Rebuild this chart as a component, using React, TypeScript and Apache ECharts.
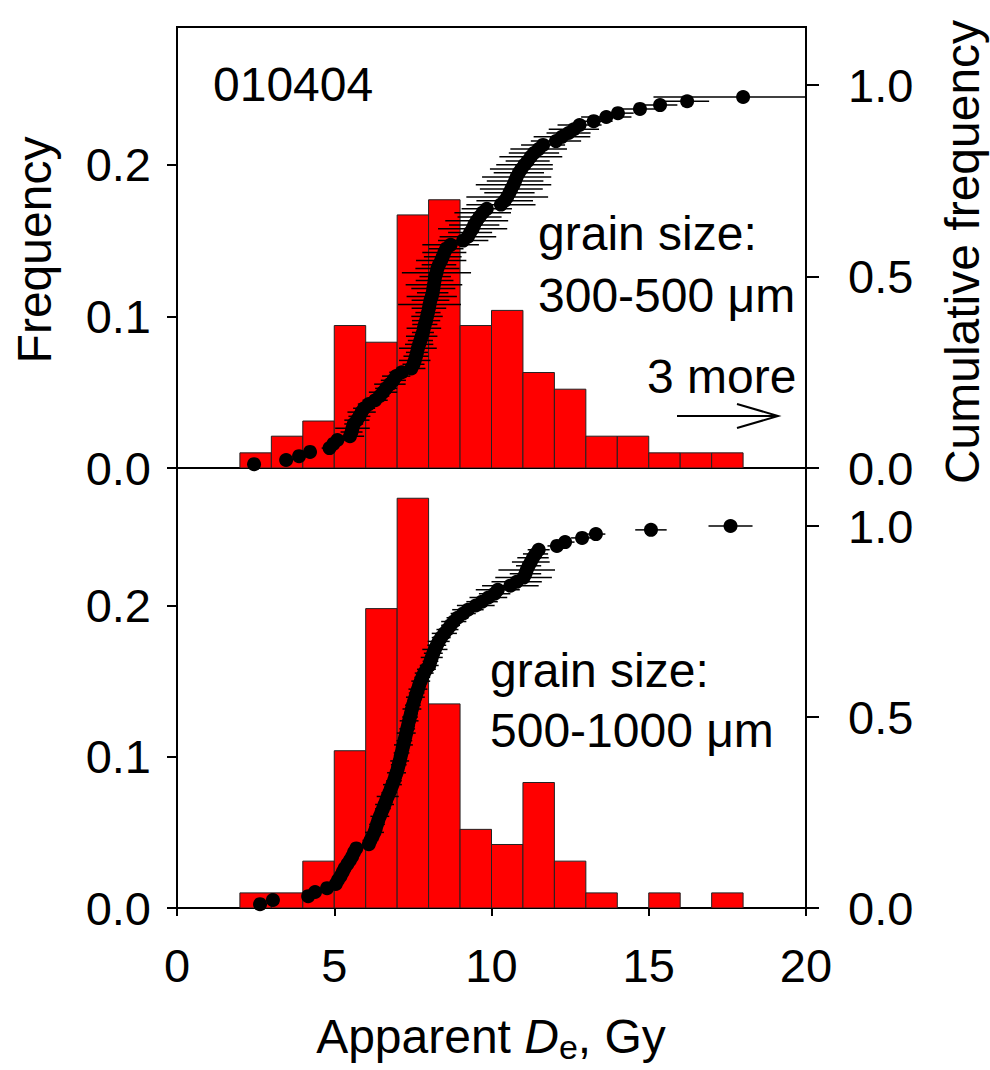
import React, { useEffect, useRef } from "react";
import * as echarts from "echarts";

const FONT = "'Liberation Sans', Arial, Helvetica, sans-serif";

// Histogram bins (Gy), bin width 1
const binStarts = [2, 3, 4, 5, 6, 7, 8, 9, 10, 11, 12, 13, 14, 15, 16, 17];
const binWidth = 1;
const freqTop = [0.010, 0.021, 0.031, 0.094, 0.083, 0.167, 0.177, 0.094, 0.104, 0.063, 0.052, 0.021, 0.021, 0.010, 0.010, 0.010];
const freqBottom = [0.010, 0.010, 0.031, 0.104, 0.198, 0.271, 0.135, 0.052, 0.042, 0.083, 0.031, 0.010, 0, 0.010, 0, 0.010];

// Cumulative distribution, 300-500 um (93 shown of 96)
const deTop = [
  2.45, 3.47, 3.88, 4.23, 4.85, 4.97, 5.1, 5.5, 5.55, 5.58,
  5.62, 5.72, 5.8, 5.87, 5.95, 6.1, 6.3, 6.45, 6.55, 6.65,
  6.77, 6.88, 6.97, 7.15, 7.45, 7.52, 7.56, 7.6, 7.63, 7.66,
  7.7, 7.74, 7.78, 7.82, 7.85, 7.88, 7.92, 7.95, 7.98, 8.01,
  8.03, 8.06, 8.1, 8.13, 8.15, 8.17, 8.19, 8.21, 8.25, 8.28,
  8.33, 8.4, 8.45, 8.5, 8.56, 8.7, 9.1, 9.25, 9.32, 9.4,
  9.45, 9.53, 9.62, 9.72, 9.85, 10.3, 10.42, 10.5, 10.57, 10.63,
  10.7, 10.75, 10.8, 10.87, 10.95, 11.05, 11.15, 11.25, 11.35, 11.5,
  11.64, 12.05, 12.24, 12.45, 12.62, 12.8, 13.25, 13.65, 14.02, 14.72,
  15.36, 16.22, 18.0,
];
const errTop = [
  0.1, 0.15, 0.15, 0.2, 0.25, 0.25, 0.3, 0.45, 0.35, 0.55,
  0.3, 0.4, 0.35, 0.45, 0.35, 0.35, 0.4, 0.3, 0.45, 0.35,
  0.5, 0.4, 0.45, 0.4, 0.45, 0.35, 0.5, 0.4, 0.35, 0.6,
  0.45, 0.4, 0.5, 0.35, 0.55, 0.4, 0.45, 0.5, 0.4, 0.55,
  1.0, 0.6, 0.8, 0.5, 0.7, 0.9, 0.6, 0.5, 1.1, 0.7,
  0.55, 0.8, 0.6, 0.7, 0.55, 0.9, 0.8, 0.9, 0.7, 1.1,
  0.8, 1.0, 0.7, 0.9, 0.8, 1.1, 0.9, 1.3, 0.8, 1.0,
  1.2, 0.9, 1.1, 0.8, 1.0, 0.9, 0.7, 1.0, 0.8, 0.9,
  0.7, 0.8, 0.9, 0.7, 0.8, 0.7, 0.6, 0.8, 0.5, 0.6,
  0.55, 0.7, 2.85,
];
const cumTop = [
  0.010, 0.021, 0.031, 0.042, 0.052, 0.063, 0.073, 0.083, 0.094, 0.104,
  0.115, 0.125, 0.135, 0.146, 0.156, 0.167, 0.177, 0.188, 0.198, 0.208,
  0.219, 0.229, 0.240, 0.250, 0.260, 0.271, 0.281, 0.292, 0.302, 0.313,
  0.323, 0.333, 0.344, 0.354, 0.365, 0.375, 0.385, 0.396, 0.406, 0.417,
  0.427, 0.438, 0.448, 0.458, 0.469, 0.479, 0.490, 0.500, 0.510, 0.521,
  0.531, 0.542, 0.552, 0.563, 0.573, 0.583, 0.594, 0.604, 0.615, 0.625,
  0.635, 0.646, 0.656, 0.667, 0.677, 0.688, 0.698, 0.708, 0.719, 0.729,
  0.740, 0.750, 0.760, 0.771, 0.781, 0.792, 0.802, 0.813, 0.823, 0.833,
  0.844, 0.854, 0.865, 0.875, 0.885, 0.896, 0.906, 0.917, 0.927, 0.938,
  0.948, 0.958, 0.969,
];

// Cumulative distribution, 500-1000 um (96)
const deBottom = [
  2.64, 3.05, 4.17, 4.39, 4.77, 5.05, 5.12, 5.2, 5.27, 5.33,
  5.42, 5.5, 5.57, 5.63, 5.7, 6.1, 6.15, 6.22, 6.28, 6.32,
  6.36, 6.4, 6.45, 6.5, 6.55, 6.6, 6.65, 6.7, 6.75, 6.8,
  6.85, 6.9, 6.94, 6.98, 7.02, 7.05, 7.08, 7.11, 7.14, 7.17,
  7.2, 7.23, 7.26, 7.29, 7.32, 7.35, 7.38, 7.41, 7.44, 7.47,
  7.5, 7.54, 7.58, 7.62, 7.66, 7.7, 7.75, 7.8, 7.86, 7.93,
  8.02, 8.06, 8.1, 8.15, 8.2, 8.26, 8.32, 8.4, 8.5, 8.6,
  8.7, 8.8, 8.92, 9.1, 9.25, 9.5, 9.7, 9.9, 10.1, 10.2,
  10.6, 10.8, 11.02, 11.08, 11.12, 11.18, 11.25, 11.32, 11.4, 11.5,
  12.08, 12.34, 12.88, 13.32, 15.07, 17.6,
];
const errBottom = [
  0.1, 0.1, 0.1, 0.12, 0.12, 0.15, 0.12, 0.2, 0.15, 0.18,
  0.2, 0.15, 0.2, 0.18, 0.2, 0.2, 0.25, 0.15, 0.3, 0.2,
  0.25, 0.2, 0.3, 0.2, 0.25, 0.3, 0.2, 0.35, 0.25, 0.2,
  0.3, 0.25, 0.2, 0.3, 0.2, 0.25, 0.3, 0.2, 0.25, 0.2,
  0.3, 0.25, 0.2, 0.3, 0.25, 0.2, 0.3, 0.25, 0.2, 0.3,
  0.25, 0.2, 0.3, 0.25, 0.3, 0.2, 0.3, 0.25, 0.3, 0.3,
  0.3, 0.25, 0.35, 0.3, 0.4, 0.3, 0.35, 0.3, 0.4, 0.35,
  0.3, 0.4, 0.35, 0.4, 0.5, 0.6, 0.5, 0.6, 0.5, 0.7,
  0.9, 0.8, 0.9, 0.5, 0.9, 0.4, 0.6, 0.5, 0.4, 0.35,
  0.3, 0.3, 0.35, 0.3, 0.5, 0.7,
];
const cumBottom = [
  0.010, 0.021, 0.031, 0.042, 0.052, 0.063, 0.073, 0.083, 0.094, 0.104,
  0.115, 0.125, 0.135, 0.146, 0.156, 0.167, 0.177, 0.188, 0.198, 0.208,
  0.219, 0.229, 0.240, 0.250, 0.260, 0.271, 0.281, 0.292, 0.302, 0.313,
  0.323, 0.333, 0.344, 0.354, 0.365, 0.375, 0.385, 0.396, 0.406, 0.417,
  0.427, 0.438, 0.448, 0.458, 0.469, 0.479, 0.490, 0.500, 0.510, 0.521,
  0.531, 0.542, 0.552, 0.563, 0.573, 0.583, 0.594, 0.604, 0.615, 0.625,
  0.635, 0.646, 0.656, 0.667, 0.677, 0.688, 0.698, 0.708, 0.719, 0.729,
  0.740, 0.750, 0.760, 0.771, 0.781, 0.792, 0.802, 0.813, 0.823, 0.833,
  0.844, 0.854, 0.865, 0.875, 0.885, 0.896, 0.906, 0.917, 0.927, 0.938,
  0.948, 0.958, 0.969, 0.979, 0.990, 1.000,
];

const freqTicks = { min: 0, max: 0.291, interval: 0.1 };
const cumTicks = { min: 0, max: 1.152, interval: 0.5 };
const deTicks = { min: 0, max: 20, interval: 5 };

const LABEL_SIZE = 47;
const TEXT_SIZE = 48;

function histSeries(freq: number[], xi: number, yi: number) {
  return {
    type: "custom",
    xAxisIndex: xi,
    yAxisIndex: yi,
    clip: true,
    z: 1,
    data: binStarts.map((s, k) => [s, s + binWidth, freq[k]]),
    encode: { x: [0, 1], y: 2 },
    renderItem: (params: any, api: any) => {
      const f = api.value(2);
      if (!f) return null;
      const p0 = api.coord([api.value(0), 0]);
      const p1 = api.coord([api.value(1), f]);
      return {
        type: "rect",
        shape: { x: p0[0], y: p1[1], width: p1[0] - p0[0], height: p0[1] - p1[1] },
        style: { fill: "#ff0000", stroke: "#222", lineWidth: 1 },
      };
    },
  };
}

function errSeries(de: number[], cum: number[], err: number[], xi: number, yi: number) {
  return {
    type: "custom",
    xAxisIndex: xi,
    yAxisIndex: yi,
    clip: true,
    z: 2,
    data: de.map((d, i) => [d, cum[i], err[i]]),
    encode: { x: 0, y: 1 },
    renderItem: (params: any, api: any) => {
      const x = api.value(0);
      const y = api.value(1);
      const e = api.value(2);
      const a = api.coord([x - e, y]);
      const b = api.coord([x + e, y]);
      return {
        type: "line",
        shape: { x1: a[0], y1: a[1], x2: b[0], y2: b[1] },
        style: { stroke: "#000", lineWidth: 1.5 },
      };
    },
  };
}

function dotSeries(de: number[], cum: number[], xi: number, yi: number) {
  return {
    type: "scatter",
    xAxisIndex: xi,
    yAxisIndex: yi,
    z: 3,
    symbol: "circle",
    symbolSize: 14,
    itemStyle: { color: "#000", opacity: 1 },
    data: de.map((d, i) => [d, cum[i]]),
  };
}

const axisLine = { show: true, lineStyle: { color: "#000", width: 2 } };

function leftAxis(gi: number) {
  return {
    type: "value",
    gridIndex: gi,
    position: "left",
    ...freqTicks,
    axisLine,
    axisTick: { show: true, inside: false, length: 10, lineStyle: { color: "#000", width: 2 } },
    axisLabel: {
      show: true,
      showMaxLabel: false,
      margin: 26,
      fontSize: LABEL_SIZE,
      fontFamily: FONT,
      color: "#000",
      formatter: (v: number) => v.toFixed(1),
    },
    splitLine: { show: false },
  };
}

function rightAxis(gi: number) {
  return {
    type: "value",
    gridIndex: gi,
    position: "right",
    ...cumTicks,
    axisLine,
    axisTick: { show: true, inside: false, length: 13, lineStyle: { color: "#000", width: 2 } },
    axisLabel: {
      show: true,
      showMaxLabel: false,
      margin: 42,
      fontSize: LABEL_SIZE,
      fontFamily: FONT,
      color: "#000",
      formatter: (v: number) => v.toFixed(1),
    },
    splitLine: { show: false },
  };
}

function txt(text: string, x: number, y: number, extra: any = {}) {
  return {
    type: "text",
    x,
    y,
    z: 10,
    ...extra,
    style: {
      text,
      x: 0,
      y: 0,
      fill: "#000",
      font: `${TEXT_SIZE}px ${FONT}`,
      align: extra.align || "left",
      verticalAlign: "middle",
      textAlign: extra.align || "left",
      textVerticalAlign: "middle",
    },
  };
}

export default function App() {
  const ref = useRef<HTMLDivElement>(null);
  useEffect(() => {
    if (!ref.current) return;
    const chart = echarts.init(ref.current, undefined, { renderer: "svg" });
    const option: any = {
      animation: false,
      backgroundColor: "#fff",
      grid: [
        { left: 177, top: 27, width: 629, height: 441, show: true, borderColor: "#000", borderWidth: 2, backgroundColor: "transparent" },
        { left: 177, top: 468, width: 629, height: 440, show: true, borderColor: "#000", borderWidth: 2, backgroundColor: "transparent" },
      ],
      xAxis: [
        {
          type: "value",
          gridIndex: 0,
          ...deTicks,
          axisLine,
          axisTick: { show: false },
          axisLabel: { show: false },
          splitLine: { show: false },
        },
        {
          type: "value",
          gridIndex: 1,
          ...deTicks,
          axisLine,
          axisTick: { show: true, inside: false, length: 8, lineStyle: { color: "#000", width: 2 } },
          axisLabel: { show: true, margin: 34, fontSize: LABEL_SIZE, fontFamily: FONT, color: "#000" },
          splitLine: { show: false },
        },
      ],
      yAxis: [leftAxis(0), rightAxis(0), leftAxis(1), rightAxis(1)],
      series: [
        histSeries(freqTop, 0, 0),
        errSeries(deTop, cumTop, errTop, 0, 1),
        dotSeries(deTop, cumTop, 0, 1),
        histSeries(freqBottom, 1, 2),
        errSeries(deBottom, cumBottom, errBottom, 1, 3),
        dotSeries(deBottom, cumBottom, 1, 3),
      ],
      graphic: [
        txt("010404", 213, 84),
        txt("grain size:", 538, 233),
        txt("300-500 \u03bcm", 538, 295),
        txt("3 more", 647, 376),
        {
          type: "line",
          z: 10,
          shape: { x1: 677, y1: 416, x2: 778, y2: 416 },
          style: { stroke: "#000", lineWidth: 2 },
        },
        {
          type: "polyline",
          z: 10,
          shape: { points: [[737, 404], [778, 416], [737, 428]] },
          style: { stroke: "#000", lineWidth: 2, fill: null },
        },
        txt("grain size:", 490, 670),
        txt("500-1000 \u03bcm", 490, 730),
        txt("Frequency", 34, 250, { rotation: Math.PI / 2, align: "center" }),
        txt("Cumulative frequency", 962, 252, { rotation: Math.PI / 2, align: "center" }),
        {
          type: "text",
          x: 491,
          y: 1036,
          z: 10,
          style: {
            text: "{a|Apparent }{i|D}{s|e}{a|, Gy}",
            x: 0,
            y: 0,
            align: "center",
            verticalAlign: "middle",
            textAlign: "center",
            textVerticalAlign: "middle",
            fill: "#000",
            font: `${TEXT_SIZE}px ${FONT}`,
            rich: {
              a: { fontSize: TEXT_SIZE, fontFamily: FONT, lineHeight: 56, color: "#000" },
              i: { fontSize: TEXT_SIZE, fontFamily: FONT, fontStyle: "italic", lineHeight: 56, color: "#000" },
              s: { fontSize: 34, fontFamily: FONT, lineHeight: 34, verticalAlign: "bottom", color: "#000" },
            },
          },
        },
      ],
    };
    chart.setOption(option);
    return () => chart.dispose();
  }, []);
  return (
    <div
      ref={ref}
      style={{ position: "fixed", left: 0, top: 0, width: 990, height: 1070, background: "#fff" }}
    />
  );
}
